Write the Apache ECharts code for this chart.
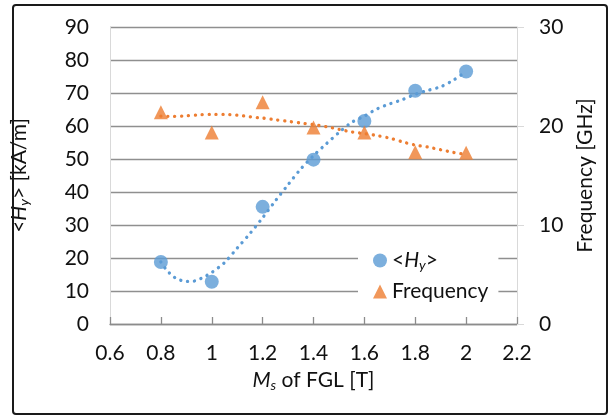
<!DOCTYPE html>
<html>
<head>
<meta charset="utf-8">
<script src="https://cdn.jsdelivr.net/npm/echarts@6/dist/echarts.min.js"></script>
<style>
  html, body { margin: 0; padding: 0; background: #fff; }
  #chart { width: 614px; height: 419px; }
</style>
</head>
<body>
<div id="chart"></div>
<script>
// Saturation magnetisation of the FGL [T]
const msValues = [0.8, 1.0, 1.2, 1.4, 1.6, 1.8, 2.0];
// Average stray field <Hy> [kA/m]
const hyValues = [18.8, 12.8, 35.5, 49.8, 61.5, 70.7, 76.5];
// Oscillation frequency [GHz]
const freqValues = [21.4, 19.35, 22.4, 19.85, 19.35, 17.35, 17.3];

// Polynomial trend curves, sampled along the fitted lines
const hyTrendX = [0.80, 0.82, 0.84, 0.86, 0.88, 0.90, 0.92, 0.94, 0.96, 0.98, 1.00, 1.05, 1.10, 1.15, 1.20, 1.25, 1.30, 1.35, 1.40, 1.45, 1.50, 1.55, 1.60, 1.65, 1.70, 1.75, 1.80, 1.85, 1.90, 1.95, 2.00];
const hyTrendY = [18.8, 16.6, 15.0, 13.8, 13.2, 12.9, 12.9, 13.2, 13.9, 14.7, 15.6, 18.6, 23.0, 27.4, 32.2, 37.3, 42.2, 47.0, 51.0, 54.6, 58.0, 61.1, 63.0, 65.2, 66.7, 68.0, 69.6, 70.8, 71.9, 73.9, 76.5];
const freqTrendX = [0.80, 0.85, 0.90, 0.95, 1.00, 1.05, 1.10, 1.15, 1.20, 1.25, 1.30, 1.35, 1.40, 1.45, 1.50, 1.55, 1.60, 1.65, 1.70, 1.75, 1.80, 1.85, 1.90, 1.95, 2.00];
const freqTrendY = [21.0, 20.97, 21.03, 21.13, 21.17, 21.17, 21.1, 20.93, 20.8, 20.63, 20.47, 20.3, 20.13, 19.93, 19.67, 19.4, 19.23, 19.03, 18.77, 18.4, 18.07, 17.87, 17.6, 17.33, 17.13];

// Axis ranges and tick steps
const xRange = [0.6, 2.2, 0.2];
const hyRange = [0, 90, 10];
const freqRange = [0, 30, 10];

const FONT = 'Lato';
const FS = 21;
const TEXT = '#111111';
const BLUE = '#5b9bd5';
const ORANGE = '#ed7d31';

const pair = (xs, ys) => xs.map((x, i) => [x, ys[i]]);

const richText = {
  i: { fontFamily: FONT, fontSize: FS, fontStyle: 'italic', color: TEXT },
  s: { fontFamily: FONT, fontSize: 14, fontStyle: 'italic', color: TEXT, padding: [9, 0, 0, 0] },
  n: { fontFamily: FONT, fontSize: FS, color: TEXT }
};

const chart = echarts.init(document.getElementById('chart'), null, { renderer: 'canvas' });

chart.setOption({
  animation: false,
  backgroundColor: '#fff',
  textStyle: { fontFamily: FONT, color: TEXT },
  grid: { left: 110, right: 97, top: 27, bottom: 95, containLabel: false },
  graphic: [{
    type: 'rect',
    shape: { x: 13, y: 5, width: 594, height: 409, r: 3 },
    style: { fill: 'none', stroke: '#1a1a1a', lineWidth: 2 },
    z: 100
  }],
  legend: {
    left: 358, top: 247,
    orient: 'vertical',
    backgroundColor: '#fff',
    padding: [3, 10, 2, 15],
    itemGap: 9,
    itemWidth: 14, itemHeight: 14,
    data: [
      { name: 'Hy', icon: 'circle' },
      { name: 'Frequency', icon: 'triangle' }
    ],
    formatter: name => name === 'Hy' ? '{n|<}{i|H}{s|y}{n|>}' : '{n|' + name + '}',
    textStyle: { fontFamily: FONT, fontSize: FS, color: TEXT, rich: richText },
    z: 10
  },
  xAxis: {
    type: 'value',
    min: xRange[0], max: xRange[1], interval: xRange[2],
    name: '{i|M}{s|s}{n| of FGL [T]}',
    nameLocation: 'middle',
    nameGap: 45,
    nameTextStyle: { rich: richText },
    axisLine: { show: true, onZero: false, lineStyle: { color: '#8c8c8c', width: 1.3 } },
    axisTick: { show: true, inside: true, length: 7, lineStyle: { color: '#8c8c8c', width: 1.3 } },
    splitLine: { show: false },
    axisLabel: {
      margin: 19, fontFamily: FONT, fontSize: FS, color: TEXT,
      formatter: v => String(Math.round(v * 10) / 10)
    }
  },
  yAxis: [{
    type: 'value',
    position: 'left',
    min: hyRange[0], max: hyRange[1], interval: hyRange[2],
    name: '{n|<}{i|H}{s|y}{n|> [kA/m]}',
    nameLocation: 'middle',
    nameRotate: 90,
    nameGap: 79,
    nameTextStyle: { rich: richText },
    axisLine: { show: true, lineStyle: { color: '#d9d9d9', width: 1 } },
    axisTick: { show: false },
    splitLine: { show: true, lineStyle: { color: '#8f8f8f', width: 1.3 } },
    axisLabel: { margin: 21, fontFamily: FONT, fontSize: FS, color: TEXT }
  }, {
    type: 'value',
    position: 'right',
    min: freqRange[0], max: freqRange[1], interval: freqRange[2],
    name: 'Frequency [GHz]',
    nameLocation: 'middle',
    nameRotate: 90,
    nameGap: 57,
    nameTextStyle: { fontFamily: FONT, fontSize: FS, color: TEXT },
    axisLine: { show: true, lineStyle: { color: '#d9d9d9', width: 1 } },
    axisTick: { show: true, length: 7, lineStyle: { color: '#d9d9d9', width: 1 } },
    splitLine: { show: false },
    axisLabel: { margin: 22, fontFamily: FONT, fontSize: FS, color: TEXT }
  }],
  series: [{
    name: 'Frequency trend',
    type: 'line',
    yAxisIndex: 1,
    data: pair(freqTrendX, freqTrendY),
    showSymbol: false,
    smooth: 0.3,
    lineStyle: { color: ORANGE, width: 3.3, type: [0.1, 6.8], cap: 'round' },
    silent: true,
    z: 2
  }, {
    name: 'Hy trend',
    type: 'line',
    yAxisIndex: 0,
    data: pair(hyTrendX, hyTrendY),
    showSymbol: false,
    smooth: 0.3,
    lineStyle: { color: BLUE, width: 3.3, type: [0.1, 6.8], cap: 'round' },
    silent: true,
    z: 3
  }, {
    name: 'Hy',
    type: 'scatter',
    yAxisIndex: 0,
    data: pair(msValues, hyValues),
    symbol: 'circle',
    symbolSize: 14,
    itemStyle: { color: BLUE },
    z: 5
  }, {
    name: 'Frequency',
    type: 'scatter',
    yAxisIndex: 1,
    data: pair(msValues, freqValues),
    symbol: 'triangle',
    symbolSize: 14,
    itemStyle: { color: ORANGE },
    z: 5
  }]
});
</script>
</body>
</html>
